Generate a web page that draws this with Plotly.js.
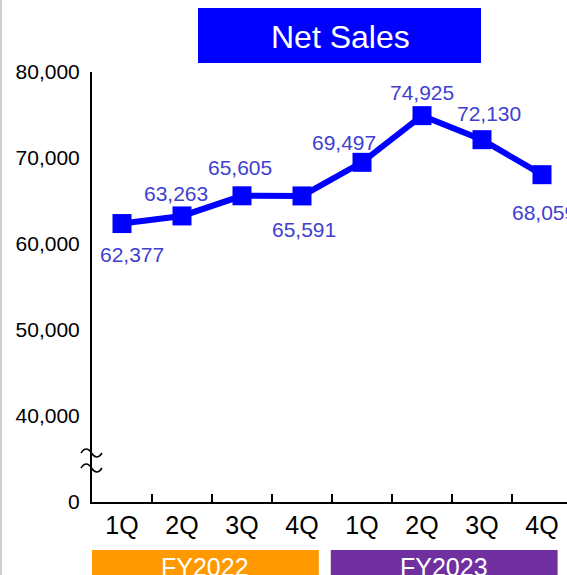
<!DOCTYPE html>
<html>
<head>
<meta charset="utf-8">
<script src="https://cdn.plot.ly/plotly-3.0.1.min.js"></script>
<style>html,body{margin:0;padding:0;background:#fff;}#chart{width:567px;height:575px;}</style>
</head>
<body>
<div id="chart"></div>
<script>
// ---- data ----
const fiscalYears = ["FY2022", "FY2023"];
const quarters = ["1Q", "2Q", "3Q", "4Q", "1Q", "2Q", "3Q", "4Q"];
const quarterYear = ["FY2022", "FY2022", "FY2022", "FY2022", "FY2023", "FY2023", "FY2023", "FY2023"];
const netSales = [62377, 63263, 65605, 65591, 69497, 74925, 72130, 68059];
const yTickValues = [30000, 40000, 50000, 60000, 70000, 80000];
const yTickLabels = ["0", "40,000", "50,000", "60,000", "70,000", "80,000"];
const chartTitle = "Net Sales";

// ---- style ----
const FONT = "Liberation Sans, Arial, sans-serif";
const lineBlue = "#0000FF";
const labelBlue = "#4040D0";
const yearColors = ["#FF9900", "#7030A0"];
// label offsets (px) relative to each point
const labelShift = [[10, -31], [-6, 22], [-2, 28], [2, -34], [-18, 20], [0, 23], [7, 26], [2, -38]];

const xKeys = quarters.map((q, i) => quarterYear[i] + " " + q);

const trace = {
  type: "scatter",
  mode: "lines+markers",
  x: xKeys,
  y: netSales,
  line: {color: lineBlue, width: 6},
  marker: {symbol: "square", size: 19, color: lineBlue},
  hoverinfo: "skip",
  cliponaxis: false
};

const annotations = netSales.map((v, i) => ({
  x: xKeys[i], y: v, xref: "x", yref: "y",
  text: v.toLocaleString("en-US"),
  showarrow: false, xanchor: "center", yanchor: "middle",
  xshift: labelShift[i][0], yshift: labelShift[i][1],
  font: {family: FONT, size: 21, color: labelBlue}
}));

// title in blue box
annotations.push({
  xref: "paper", yref: "paper",
  x: (340 - 92) / 475, y: 1 + (72 - 37) / 430,
  xanchor: "center", yanchor: "middle",
  text: chartTitle, showarrow: false,
  font: {family: FONT, size: 32, color: "#FFFFFF"}
});

const shapes = [
  // title box
  {type: "rect", xref: "paper", yref: "paper",
   x0: (198 - 92) / 475, x1: (481 - 92) / 475,
   y0: 1 + (72 - 63) / 430, y1: 1 + (72 - 8) / 430,
   fillcolor: "#0000FF", line: {width: 0}, layer: "below"},
  // left gray border
  {type: "rect", xref: "paper", yref: "paper",
   x0: (0 - 92) / 475, x1: (2 - 92) / 475, y0: -0.2, y1: 1.2,
   fillcolor: "#D0D0D0", line: {width: 0}}
];

// fiscal-year boxes
const groupSize = 4;
fiscalYears.forEach((fy, g) => {
  const start = g * groupSize - 0.5;
  const x0 = start + (g === 0 ? 0 : -0.02);
  const x1 = x0 + 3.78;
  shapes.push({type: "rect", xref: "x", yref: "paper",
    x0: x0, x1: x1, y0: -(580 - 502) / 430, y1: -(550 - 502) / 430,
    fillcolor: yearColors[g], line: {width: 0}});
  annotations.push({xref: "x", yref: "paper",
    x: (x0 + x1) / 2, y: -(567 - 502) / 430,
    xanchor: "center", yanchor: "middle",
    text: fy, showarrow: false,
    font: {family: FONT, size: 25, color: "#FFFFFF"}});
});

// axis break symbol (two waves)
function wave(py) {
  const yc = (502 - py) / 430;
  const a = 4 / 430;
  const xa = (81 - 92) / 475, xb = (102 - 92) / 475;
  const w = (xb - xa) / 2;
  return `M ${xa},${yc} Q ${xa + w / 2},${yc + 2 * a} ${xa + w},${yc} T ${xb},${yc}`;
}
[453, 468].forEach(py => shapes.push({type: "path", xref: "paper", yref: "paper",
  path: wave(py), line: {color: "#000000", width: 1.5}}));

const layout = {
  width: 567, height: 575,
  margin: {l: 92, r: 0, t: 72, b: 73},
  paper_bgcolor: "#FFFFFF", plot_bgcolor: "#FFFFFF",
  showlegend: false,
  font: {family: FONT, color: "#000000"},
  xaxis: {
    type: "category",
    categoryorder: "array", categoryarray: xKeys,
    range: [-0.5, 7.4167],
    tickmode: "array", tickvals: xKeys, ticktext: quarters,
    tickson: "boundaries",
    ticks: "inside", ticklen: 8, tickwidth: 2, tickcolor: "#000000",
    showline: true, linecolor: "#000000", linewidth: 2,
    showgrid: false, zeroline: false,
    tickfont: {family: FONT, size: 25, color: "#000000"},
    fixedrange: true
  },
  yaxis: {
    range: [30000, 80000],
    tickmode: "array", tickvals: yTickValues, ticktext: yTickLabels,
    ticks: "outside", ticklen: 6, tickcolor: "rgba(0,0,0,0)",
    showline: true, linecolor: "#000000", linewidth: 2,
    showgrid: false, zeroline: false,
    tickfont: {family: FONT, size: 21, color: "#000000"},
    fixedrange: true
  },
  shapes: shapes,
  annotations: annotations
};

Plotly.newPlot("chart", [trace], layout, {displayModeBar: false, staticPlot: true});
</script>
</body>
</html>
